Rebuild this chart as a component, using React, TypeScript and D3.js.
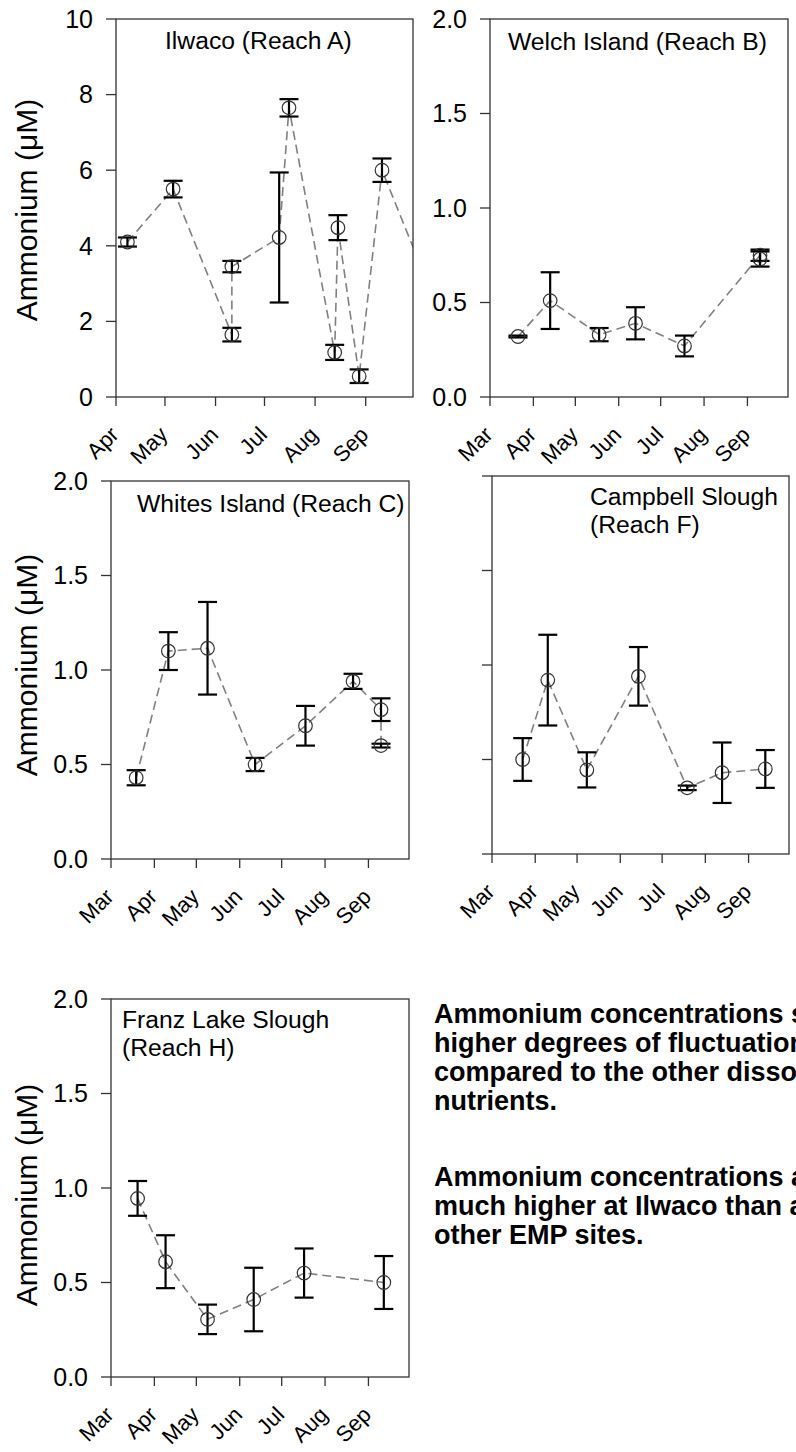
import React from 'react';
import * as d3 from 'd3';

// ---------- DATA ----------
const ilwacoDates = ['2008-04-08', '2008-05-06', '2008-06-11', '2008-06-11', '2008-07-10', '2008-07-16', '2008-08-13', '2008-08-15', '2008-08-28', '2008-09-11', '2008-10-10'];
const ilwacoValues = [4.1, 5.5, 1.65, 3.45, 4.22, 7.65, 1.18, 4.48, 0.55, 6.0, 2.9];
const ilwacoErrors = [0.12, 0.22, 0.18, 0.15, 1.72, 0.23, 0.2, 0.33, 0.18, 0.31, 0];

const welchDates = ['2008-03-21', '2008-04-13', '2008-05-18', '2008-06-13', '2008-07-18', '2008-09-10', '2008-09-10'];
const welchValues = [0.32, 0.51, 0.33, 0.39, 0.27, 0.75, 0.73];
const welchErrors = [0.005, 0.15, 0.035, 0.085, 0.055, 0.03, 0.04];

const whitesDates = ['2008-03-19', '2008-04-11', '2008-05-09', '2008-06-12', '2008-07-18', '2008-08-21', '2008-09-10', '2008-09-10'];
const whitesValues = [0.43, 1.1, 1.115, 0.5, 0.705, 0.94, 0.79, 0.6];
const whitesErrors = [0.04, 0.1, 0.245, 0.035, 0.105, 0.04, 0.06, 0.01];

const campbellDates = ['2008-03-23', '2008-04-10', '2008-05-08', '2008-06-14', '2008-07-19', '2008-08-13', '2008-09-13'];
const campbellValues = [0.5, 0.92, 0.445, 0.94, 0.35, 0.43, 0.45];
const campbellErrors = [0.113, 0.24, 0.093, 0.155, 0.012, 0.16, 0.1];

const franzDates = ['2008-03-20', '2008-04-09', '2008-05-09', '2008-06-11', '2008-07-17', '2008-09-12'];
const franzValues = [0.945, 0.61, 0.305, 0.41, 0.55, 0.5];
const franzErrors = [0.092, 0.14, 0.078, 0.168, 0.13, 0.14];

const ticksA = [0, 2, 4, 6, 8, 10];
const ticksB = [0, 0.5, 1.0, 1.5, 2.0];

const yTitle = 'Ammonium (\u03BCM)';

const noteParagraph1 = [
  'Ammonium concentrations show',
  'higher degrees of fluctuations',
  'compared to the other dissolved',
  'nutrients.',
];
const noteParagraph2 = [
  'Ammonium concentrations are',
  'much higher at Ilwaco than at',
  'other EMP sites.',
];

const parse = d3.timeParse('%Y-%m-%d');

type PanelDef = {
  id: string;
  dates: string[];
  values: number[];
  errors: number[];
  left: number;
  top: number;
  width: number;
  height: number;
  start: string;
  end: string;
  yMax: number;
  ticks: number[];
  fmt: (v: number) => string;
  showYLabels: boolean;
  title: string[];
  titleX: number;
  titleY: number;
  yTitleY: number | null;
};

const panels: PanelDef[] = [
  {
    id: 'a', dates: ilwacoDates, values: ilwacoValues, errors: ilwacoErrors,
    left: 116, top: 19, width: 297, height: 378,
    start: '2008-04-01', end: '2008-09-30', yMax: 10, ticks: ticksA, fmt: d3.format('d'),
    showYLabels: true, title: ['Ilwaco (Reach A)'], titleX: 165, titleY: 49, yTitleY: 210,
  },
  {
    id: 'b', dates: welchDates, values: welchValues, errors: welchErrors,
    left: 490, top: 19, width: 298, height: 378,
    start: '2008-03-01', end: '2008-09-30', yMax: 2, ticks: ticksB, fmt: d3.format('.1f'),
    showYLabels: true, title: ['Welch Island (Reach B)'], titleX: 508, titleY: 50, yTitleY: null,
  },
  {
    id: 'c', dates: whitesDates, values: whitesValues, errors: whitesErrors,
    left: 111, top: 481, width: 298, height: 378,
    start: '2008-03-01', end: '2008-09-30', yMax: 2, ticks: ticksB, fmt: d3.format('.1f'),
    showYLabels: true, title: ['Whites Island (Reach C)'], titleX: 137, titleY: 512, yTitleY: 665,
  },
  {
    id: 'f', dates: campbellDates, values: campbellValues, errors: campbellErrors,
    left: 492, top: 476, width: 297, height: 378,
    start: '2008-03-01', end: '2008-09-30', yMax: 2, ticks: ticksB, fmt: d3.format('.1f'),
    showYLabels: false, title: ['Campbell Slough', '(Reach F)'], titleX: 590, titleY: 505, yTitleY: null,
  },
  {
    id: 'h', dates: franzDates, values: franzValues, errors: franzErrors,
    left: 111, top: 999, width: 298, height: 378,
    start: '2008-03-01', end: '2008-09-30', yMax: 2, ticks: ticksB, fmt: d3.format('.1f'),
    showYLabels: true, title: ['Franz Lake Slough', '(Reach H)'], titleX: 122, titleY: 1028, yTitleY: 1195,
  },
];

const FONT = "Arial, 'Liberation Sans', Helvetica, sans-serif";
const monthFmt = d3.timeFormat('%b');

function Panel({ p }: { p: PanelDef }) {
  const x = d3.scaleTime()
    .domain([parse(p.start) as Date, parse(p.end) as Date])
    .range([p.left, p.left + p.width]);
  const y = d3.scaleLinear().domain([0, p.yMax]).range([p.top + p.height, p.top]);
  const bottom = p.top + p.height;
  const pts = p.dates.map((d, i) => ({ date: parse(d) as Date, v: p.values[i], e: p.errors[i] }));
  const line = d3.line<{ date: Date; v: number }>().x((d) => x(d.date)).y((d) => y(d.v));
  const months = d3.timeMonth.range(parse(p.start) as Date, d3.timeDay.offset(parse(p.end) as Date, 1));
  const clipId = 'clip-' + p.id;
  const cap = 9.5;
  return (
    <g>
      <defs>
        <clipPath id={clipId}>
          <rect x={p.left} y={p.top} width={p.width} height={p.height} />
        </clipPath>
      </defs>
      {/* y ticks */}
      {p.ticks.map((t) => (
        <g key={'yt' + t}>
          <line x1={p.left - 10} x2={p.left} y1={y(t)} y2={y(t)} stroke="#333" strokeWidth={1.3} />
          {p.showYLabels && (
            <text x={p.left - 23} y={y(t)} dy="0.35em" textAnchor="end" fontSize={25} fontFamily={FONT} fill="#000">
              {p.fmt(t)}
            </text>
          )}
        </g>
      ))}
      {/* x ticks */}
      {months.map((m, i) => (
        <g key={'xt' + i}>
          <line x1={x(m)} x2={x(m)} y1={bottom} y2={bottom + 9} stroke="#333" strokeWidth={1.3} />
          <text
            transform={`translate(${x(m) + 4},${bottom + 39}) rotate(-45)`}
            textAnchor="end" fontSize={22} fontFamily={FONT} fill="#000"
          >
            {monthFmt(m)}
          </text>
        </g>
      ))}
      {/* data */}
      <g clipPath={`url(#${clipId})`}>
        <path d={line(pts) || ''} fill="none" stroke="#808080" strokeWidth={1.6} strokeDasharray="9,5" />
        {pts.map((d, i) => (
          <g key={'pt' + i}>
            {d.e > 0 && (
              <g stroke="#000" strokeWidth={2.2}>
                <line x1={x(d.date)} x2={x(d.date)} y1={y(d.v + d.e)} y2={y(d.v - d.e)} />
                <line x1={x(d.date) - cap} x2={x(d.date) + cap} y1={y(d.v + d.e)} y2={y(d.v + d.e)} />
                <line x1={x(d.date) - cap} x2={x(d.date) + cap} y1={y(d.v - d.e)} y2={y(d.v - d.e)} />
              </g>
            )}
            <circle cx={x(d.date)} cy={y(d.v)} r={6.8} fill="none" stroke="#333" strokeWidth={1.2} />
          </g>
        ))}
      </g>
      {/* frame */}
      <rect x={p.left} y={p.top} width={p.width} height={p.height} fill="none" stroke="#333" strokeWidth={1.3} />
      {/* title */}
      {p.title.map((t, i) => (
        <text key={'ti' + i} x={p.titleX} y={p.titleY + i * 28} fontSize={24.7} fontFamily={FONT} fill="#000">
          {t}
        </text>
      ))}
      {p.yTitleY !== null && (
        <text
          transform={`translate(37,${p.yTitleY}) rotate(-90)`}
          textAnchor="middle" fontSize={30} fontFamily={FONT} fill="#000"
        >
          {yTitle}
        </text>
      )}
    </g>
  );
}

export default function App() {
  return (
    <svg
      width={796}
      height={1452}
      style={{ position: 'absolute', left: 0, top: 0, background: '#fff' }}
    >
      <rect x={0} y={0} width={796} height={1452} fill="#fff" />
      {panels.map((p) => (
        <Panel key={p.id} p={p} />
      ))}
      <g fontFamily={FONT} fontWeight="bold" fontSize={27} fill="#000">
        {noteParagraph1.map((t, i) => (
          <text key={'n1' + i} x={434} y={1023 + i * 29}>{t}</text>
        ))}
        {noteParagraph2.map((t, i) => (
          <text key={'n2' + i} x={434} y={1186 + i * 29}>{t}</text>
        ))}
      </g>
    </svg>
  );
}
